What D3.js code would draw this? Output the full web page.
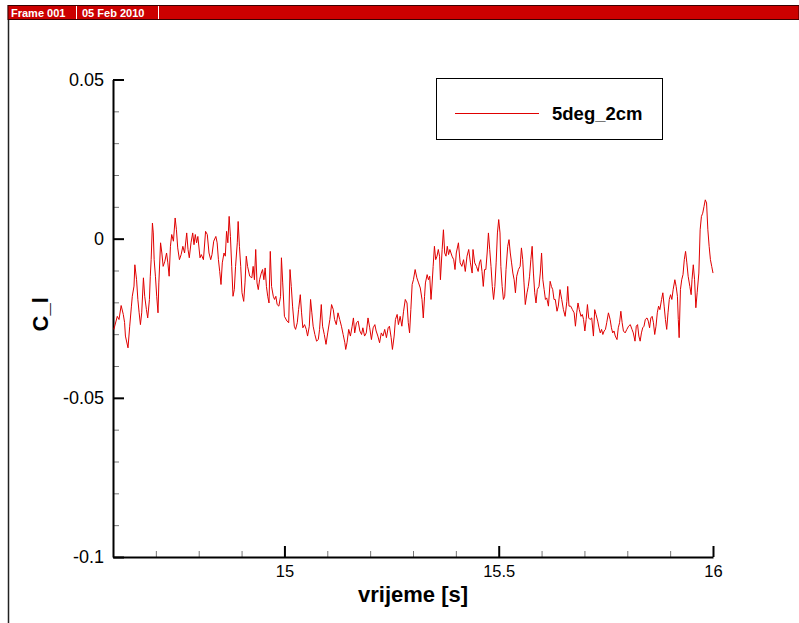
<!DOCTYPE html>
<html>
<head>
<meta charset="utf-8">
<script src="https://cdn.jsdelivr.net/npm/d3@7"></script>
<style>
  html, body { margin: 0; padding: 0; background: #fff; }
  svg { display: block; font-family: "Liberation Sans", Arial, sans-serif; }
</style>
</head>
<body>
<div id="chart"></div>
<script>
// time [s] and lift coefficient
const timeS = [
  14.602, 14.610, 14.614, 14.619, 14.624, 14.627, 14.629, 14.635, 14.639, 14.643, 14.645, 14.649, 14.651, 14.655, 14.658,
  14.661, 14.664, 14.667, 14.671, 14.674, 14.678, 14.681, 14.685, 14.687, 14.689, 14.692, 14.694, 14.696, 14.699, 14.702,
  14.705, 14.707, 14.711, 14.714, 14.717, 14.721, 14.725, 14.728, 14.731, 14.734, 14.737, 14.741, 14.745, 14.748, 14.751,
  14.755, 14.759, 14.763, 14.767, 14.772, 14.775, 14.778, 14.782, 14.786, 14.789, 14.792, 14.795, 14.798, 14.803, 14.806,
  14.811, 14.816, 14.820, 14.824, 14.828, 14.831, 14.835, 14.840, 14.843, 14.846, 14.849, 14.852, 14.855, 14.859, 14.862,
  14.865, 14.868, 14.871, 14.874, 14.877, 14.880, 14.883, 14.886, 14.890, 14.892, 14.895, 14.898, 14.901, 14.905, 14.908,
  14.911, 14.914, 14.919, 14.924, 14.927, 14.930, 14.933, 14.936, 14.939, 14.942, 14.946, 14.949, 14.952, 14.955, 14.958,
  14.961, 14.964, 14.967, 14.970, 14.974, 14.977, 14.980, 14.983, 14.987, 14.991, 14.993, 14.996, 15.000, 15.006, 15.010,
  15.013, 15.016, 15.019, 15.023, 15.026, 15.030, 15.033, 15.037, 15.040, 15.043, 15.047, 15.051, 15.054, 15.058, 15.061,
  15.064, 15.067, 15.071, 15.075, 15.079, 15.082, 15.086, 15.089, 15.093, 15.097, 15.101, 15.106, 15.110, 15.114, 15.117,
  15.121, 15.125, 15.129, 15.133, 15.137, 15.141, 15.143, 15.146, 15.150, 15.154, 15.158, 15.161, 15.164, 15.168, 15.172,
  15.176, 15.180, 15.183, 15.187, 15.191, 15.195, 15.199, 15.203, 15.207, 15.211, 15.214, 15.218, 15.222, 15.226, 15.230,
  15.234, 15.238, 15.242, 15.245, 15.249, 15.252, 15.256, 15.259, 15.263, 15.266, 15.270, 15.274, 15.278, 15.282, 15.286,
  15.289, 15.292, 15.295, 15.298, 15.301, 15.305, 15.309, 15.313, 15.317, 15.321, 15.324, 15.327, 15.329, 15.333, 15.336,
  15.339, 15.342, 15.344, 15.347, 15.350, 15.353, 15.356, 15.359, 15.362, 15.364, 15.368, 15.371, 15.374, 15.377, 15.380,
  15.383, 15.386, 15.391, 15.395, 15.398, 15.401, 15.406, 15.410, 15.414, 15.418, 15.422, 15.426, 15.430, 15.434, 15.438,
  15.440, 15.444, 15.448, 15.452, 15.455, 15.458, 15.461, 15.464, 15.467, 15.470, 15.473, 15.476, 15.479, 15.482, 15.485,
  15.488, 15.491, 15.494, 15.497, 15.500, 15.503, 15.505, 15.508, 15.511, 15.514, 15.517, 15.521, 15.524, 15.527, 15.530,
  15.533, 15.536, 15.539, 15.542, 15.546, 15.550, 15.553, 15.556, 15.559, 15.562, 15.566, 15.569, 15.572, 15.575, 15.578,
  15.581, 15.584, 15.587, 15.590, 15.594, 15.597, 15.600, 15.603, 15.606, 15.609, 15.612, 15.616, 15.620, 15.623, 15.626,
  15.629, 15.632, 15.636, 15.639, 15.643, 15.647, 15.651, 15.655, 15.659, 15.661, 15.664, 15.668, 15.672, 15.676, 15.679,
  15.682, 15.685, 15.688, 15.692, 15.695, 15.698, 15.701, 15.704, 15.707, 15.710, 15.713, 15.717, 15.721, 15.724, 15.727,
  15.731, 15.734, 15.737, 15.740, 15.743, 15.746, 15.749, 15.752, 15.756, 15.760, 15.763, 15.766, 15.769, 15.772, 15.776,
  15.779, 15.782, 15.785, 15.788, 15.791, 15.795, 15.799, 15.803, 15.807, 15.811, 15.814, 15.818, 15.821, 15.824, 15.827,
  15.830, 15.833, 15.836, 15.839, 15.842, 15.846, 15.849, 15.852, 15.855, 15.858, 15.861, 15.864, 15.867, 15.870, 15.873,
  15.876, 15.880, 15.883, 15.886, 15.889, 15.892, 15.895, 15.898, 15.901, 15.904, 15.907, 15.911, 15.914, 15.917, 15.919,
  15.921, 15.924, 15.927, 15.930, 15.933, 15.936, 15.939, 15.942, 15.946, 15.949, 15.951, 15.954, 15.957, 15.960, 15.963,
  15.967, 15.970, 15.973, 15.976, 15.979, 15.982, 15.985, 15.988, 15.991, 15.994, 15.997, 16.000
];
const cl = [
  -0.0285, -0.0244, -0.0254, -0.0210, -0.0238, -0.0263, -0.0306, -0.0343, -0.0275, -0.0212, -0.0181, -0.0149, -0.0082, -0.0129, -0.0191,
  -0.0233, -0.0270, -0.0233, -0.0123, -0.0181, -0.0223, -0.0249, -0.0191, -0.0118, -0.0066, 0.0049, 0.0018, -0.0066, -0.0118, -0.0181,
  -0.0233, -0.0139, -0.0013, -0.0045, -0.0087, -0.0071, -0.0045, -0.0076, -0.0118, -0.0024, 0.0013, -0.0008, 0.0065, 0.0028, -0.0029,
  -0.0066, -0.0050, -0.0024, -0.0045, 0.0018, -0.0034, -0.0060, -0.0013, 0.0018, -0.0019, 0.0013, -0.0013, 0.0007, -0.0060, -0.0050,
  -0.0066, 0.0023, 0.0013, -0.0045, -0.0066, -0.0050, -0.0008, 0.0007, -0.0013, -0.0066, -0.0103, -0.0144, -0.0076, -0.0045, -0.0055,
  0.0023, -0.0013, 0.0070, 0.0007, -0.0087, -0.0181, -0.0160, -0.0087, -0.0013, 0.0054, -0.0024, -0.0087, -0.0170, -0.0197, -0.0139,
  -0.0055, -0.0087, -0.0118, -0.0123, -0.0087, -0.0129, -0.0034, -0.0139, -0.0160, -0.0129, -0.0108, -0.0097, -0.0129, -0.0092, -0.0150,
  -0.0181, -0.0202, -0.0040, -0.0150, -0.0181, -0.0191, -0.0181, -0.0207, -0.0212, -0.0181, -0.0060, -0.0139, -0.0244, -0.0259, -0.0264,
  -0.0097, -0.0150, -0.0212, -0.0275, -0.0285, -0.0264, -0.0223, -0.0176, -0.0233, -0.0280, -0.0270, -0.0285, -0.0306, -0.0275, -0.0191,
  -0.0233, -0.0275, -0.0301, -0.0322, -0.0317, -0.0285, -0.0207, -0.0275, -0.0301, -0.0332, -0.0296, -0.0254, -0.0207, -0.0223, -0.0254,
  -0.0270, -0.0233, -0.0254, -0.0275, -0.0301, -0.0327, -0.0348, -0.0327, -0.0285, -0.0306, -0.0275, -0.0249, -0.0296, -0.0264, -0.0259,
  -0.0290, -0.0301, -0.0280, -0.0306, -0.0296, -0.0249, -0.0280, -0.0317, -0.0280, -0.0270, -0.0290, -0.0306, -0.0327, -0.0296, -0.0306,
  -0.0285, -0.0311, -0.0280, -0.0275, -0.0311, -0.0348, -0.0306, -0.0254, -0.0238, -0.0270, -0.0244, -0.0275, -0.0228, -0.0191, -0.0202,
  -0.0264, -0.0296, -0.0223, -0.0144, -0.0129, -0.0097, -0.0123, -0.0139, -0.0155, -0.0191, -0.0249, -0.0181, -0.0139, -0.0113, -0.0129,
  -0.0118, -0.0191, -0.0155, -0.0087, -0.0024, -0.0066, -0.0055, -0.0034, -0.0055, -0.0129, -0.0034, 0.0028, -0.0045, -0.0055, -0.0024,
  -0.0050, -0.0034, -0.0055, -0.0066, -0.0097, -0.0045, -0.0013, -0.0076, -0.0087, -0.0066, -0.0103, -0.0055, -0.0034, -0.0076, -0.0108,
  -0.0034, -0.0076, -0.0087, -0.0103, -0.0076, -0.0066, -0.0103, -0.0150, -0.0097, -0.0097, -0.0045, 0.0018, -0.0034, -0.0087, -0.0150,
  -0.0191, -0.0150, -0.0076, 0.0018, 0.0060, 0.0018, -0.0087, -0.0150, -0.0191, -0.0181, -0.0097, -0.0024, -0.0003, -0.0045, -0.0076,
  -0.0108, -0.0129, -0.0170, -0.0118, -0.0097, -0.0087, -0.0029, -0.0066, -0.0139, -0.0207, -0.0170, -0.0150, -0.0118, -0.0066, -0.0024,
  -0.0108, -0.0170, -0.0202, -0.0160, -0.0150, -0.0108, -0.0045, -0.0129, -0.0160, -0.0191, -0.0186, -0.0212, -0.0134, -0.0150, -0.0160,
  -0.0191, -0.0191, -0.0228, -0.0212, -0.0160, -0.0191, -0.0223, -0.0244, -0.0197, -0.0150, -0.0212, -0.0212, -0.0223, -0.0233, -0.0275,
  -0.0233, -0.0202, -0.0223, -0.0244, -0.0238, -0.0254, -0.0290, -0.0254, -0.0207, -0.0249, -0.0254, -0.0249, -0.0306, -0.0223, -0.0238,
  -0.0259, -0.0280, -0.0296, -0.0285, -0.0301, -0.0290, -0.0285, -0.0264, -0.0233, -0.0254, -0.0280, -0.0296, -0.0290, -0.0306, -0.0317,
  -0.0280, -0.0264, -0.0228, -0.0264, -0.0290, -0.0296, -0.0285, -0.0275, -0.0270, -0.0285, -0.0296, -0.0322, -0.0275, -0.0270, -0.0306,
  -0.0322, -0.0296, -0.0280, -0.0275, -0.0254, -0.0249, -0.0259, -0.0280, -0.0249, -0.0244, -0.0264, -0.0301, -0.0275, -0.0233, -0.0212,
  -0.0223, -0.0191, -0.0170, -0.0212, -0.0254, -0.0285, -0.0233, -0.0191, -0.0176, -0.0191, -0.0160, -0.0129, -0.0150, -0.0181, -0.0254,
  -0.0311, -0.0160, -0.0129, -0.0113, -0.0066, -0.0040, -0.0076, -0.0118, -0.0150, -0.0176, -0.0129, -0.0082, -0.0129, -0.0217, -0.0170,
  -0.0108, 0.0028, 0.0070, 0.0080, 0.0101, 0.0122, 0.0112, 0.0028, -0.0024, -0.0066, -0.0087, -0.0108
];

const xDomain = [14.6, 16];
const yDomain = [-0.1, 0.05];
const xTickLabels = [15, 15.5, 16];
const yTickLabels = [0.05, 0, -0.05, -0.1];
const xMinorTicks = [14.7, 14.8, 14.9, 15.1, 15.2, 15.3, 15.4, 15.6, 15.7, 15.8, 15.9];
const yMinorTicks = [0.04, 0.03, 0.02, 0.01, -0.01, -0.02, -0.03, -0.04, -0.06, -0.07, -0.08, -0.09];
const seriesName = "5deg_2cm";
const frameLabel = "Frame 001";
const dateLabel = "05 Feb 2010";

const W = 799, H = 623;
const plot = { left: 113, right: 713, top: 79.5, bottom: 557 };
const fontFamily = "Liberation Sans, Arial, sans-serif";

const svg = d3.select("#chart").append("svg")
  .attr("width", W)
  .attr("height", H);

// header bar and frame edge
svg.append("line")
  .attr("x1", 8.5).attr("x2", 8.5).attr("y1", 5).attr("y2", H)
  .attr("stroke", "#222").attr("stroke-width", 1.5);
svg.append("rect")
  .attr("x", 8).attr("y", 5.5).attr("width", W - 8).attr("height", 14)
  .attr("fill", "#cc0000").attr("stroke", "#3a0000").attr("stroke-width", 1);
svg.append("text")
  .attr("x", 11).attr("y", 16.5)
  .attr("fill", "#fff").attr("font-size", 11).attr("font-weight", "bold")
  .text(frameLabel);
svg.append("text")
  .attr("x", 82).attr("y", 16.5)
  .attr("fill", "#fff").attr("font-size", 11).attr("font-weight", "bold")
  .text(dateLabel);
[76.5, 158.5].forEach(sx => {
  svg.append("line")
    .attr("x1", sx).attr("x2", sx).attr("y1", 6).attr("y2", 19)
    .attr("stroke", "#fff").attr("stroke-width", 1);
});

const x = d3.scaleLinear().domain(xDomain).range([plot.left, plot.right]);
const y = d3.scaleLinear().domain(yDomain).range([plot.bottom, plot.top]);

// minor ticks
svg.append("g")
  .attr("transform", `translate(0,${plot.bottom})`)
  .call(d3.axisBottom(x).tickValues(xMinorTicks).tickSize(-6).tickFormat(""))
  .call(g => g.select(".domain").remove())
  .call(g => g.selectAll("line").attr("stroke", "#777").attr("stroke-width", 1));
svg.append("g")
  .attr("transform", `translate(${plot.left},0)`)
  .call(d3.axisLeft(y).tickValues(yMinorTicks).tickSize(-6).tickFormat(""))
  .call(g => g.select(".domain").remove())
  .call(g => g.selectAll("line").attr("stroke", "#777").attr("stroke-width", 1));

// major axes (plain hyphen for negatives, as in the original)
svg.append("g")
  .attr("transform", `translate(0,${plot.bottom})`)
  .call(d3.axisBottom(x).tickValues(xTickLabels).tickSize(-11).tickSizeOuter(0).tickPadding(8)
    .tickFormat(d => String(d)))
  .call(g => g.select(".domain").attr("stroke", "#000").attr("stroke-width", 2))
  .call(g => g.selectAll("line").attr("stroke", "#000").attr("stroke-width", 2))
  .call(g => g.selectAll("text").attr("font-size", 16.5).attr("fill", "#000")
    .attr("font-family", fontFamily));
svg.append("g")
  .attr("transform", `translate(${plot.left},0)`)
  .call(d3.axisLeft(y).tickValues(yTickLabels).tickSize(-11).tickSizeOuter(0).tickPadding(9)
    .tickFormat(d => String(d)))
  .call(g => g.select(".domain").attr("stroke", "#000").attr("stroke-width", 2))
  .call(g => g.selectAll("line").attr("stroke", "#000").attr("stroke-width", 2))
  .call(g => g.selectAll("text").attr("font-size", 18).attr("fill", "#000")
    .attr("font-family", fontFamily));

// axis titles
svg.append("text")
  .attr("x", 413).attr("y", 602)
  .attr("text-anchor", "middle")
  .attr("font-size", 22).attr("font-weight", "bold")
  .text("vrijeme [s]");
svg.append("text")
  .attr("transform", `translate(48,${(plot.top + plot.bottom) / 2 - 4}) rotate(-90)`)
  .attr("text-anchor", "middle")
  .attr("font-size", 22).attr("font-weight", "bold")
  .text("C_l");

// the series
const data = timeS.map((t, i) => ({ t: t, v: cl[i] }));
svg.append("path")
  .datum(data)
  .attr("fill", "none")
  .attr("stroke", "#e00000")
  .attr("stroke-width", 1)
  .attr("d", d3.line().x(d => x(d.t)).y(d => y(d.v)));

// legend
const legend = svg.append("g");
legend.append("rect")
  .attr("x", 436.5).attr("y", 78.5).attr("width", 226).attr("height", 61)
  .attr("fill", "#fff").attr("stroke", "#000").attr("stroke-width", 1);
legend.append("line")
  .attr("x1", 455).attr("x2", 539).attr("y1", 113.5).attr("y2", 113.5)
  .attr("stroke", "#e00000").attr("stroke-width", 1);
legend.append("text")
  .attr("x", 552).attr("y", 120)
  .attr("font-size", 18.5).attr("font-weight", "bold")
  .text(seriesName);
</script>
</body>
</html>
